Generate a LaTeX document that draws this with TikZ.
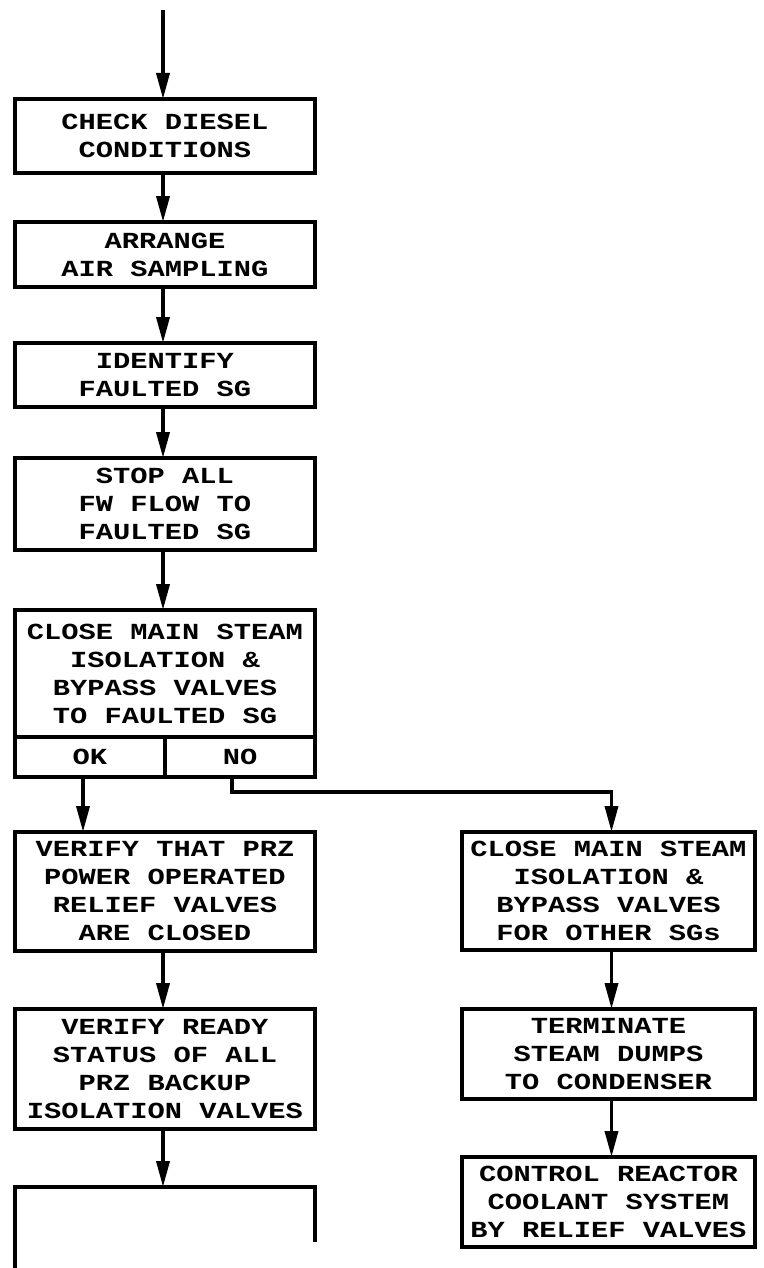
\documentclass[tikz,border=0pt]{standalone}
\usepackage{fontspec}
\setmonofont{Liberation Mono}[FakeStretch=1.25]
\usetikzlibrary{arrows.meta,positioning}

\begin{document}
\begin{tikzpicture}[x=0.5pt,y=0.5pt,font=\ttfamily\bfseries\fontsize{11.5}{14}\selectfont]
  \tikzset{stepbox/.style={draw,line width=2pt,outer sep=0pt,minimum width=150pt,minimum height=#1,inner xsep=1pt,inner ysep=0pt,align=center},
    sidebox/.style={stepbox=#1,minimum width=146.5pt},
    rowbox/.style={draw,line width=2pt,outer sep=0pt,minimum width=75pt,minimum height=20pt,inner sep=1pt},
    flow/.style={-{Triangle[length=13pt,width=6.5pt]},line width=1.8pt}}
  \useasboundingbox (0,0) rectangle (764,-1268);
  % main column
  \coordinate (in) at (163,-10);
  \node[stepbox=37pt,anchor=north] (diesel) at (165,-99) {CHECK DIESEL\\CONDITIONS};
  \node[stepbox=32.5pt,below=24.5pt of diesel] (air) {ARRANGE\\AIR SAMPLING};
  \node[stepbox=32pt,below=28pt of air] (ident) {IDENTIFY\\FAULTED SG};
  \node[stepbox=46pt,below=25.5pt of ident] (fwstop) {STOP ALL\\FW FLOW TO\\FAULTED SG};
  \node[stepbox=63.5pt,below=30pt of fwstop] (msiv) {CLOSE MAIN STEAM\\ISOLATION \&\\BYPASS VALVES\\TO FAULTED SG};
  \node[rowbox,anchor=north west] (ok) at (msiv.south west) {OK};
  \node[rowbox,anchor=north east] (no) at (msiv.south east) {NO};
  \node[stepbox=59.5pt,anchor=north] (porv) at ([yshift=-27.5pt]msiv.south |- ok.south) {VERIFY THAT PRZ\\POWER OPERATED\\RELIEF VALVES\\ARE CLOSED};
  \node[stepbox=60pt,below=29pt of porv] (backup) {VERIFY READY\\STATUS OF ALL\\PRZ BACKUP\\ISOLATION VALVES};
  \coordinate[below=29pt of backup] (next);
  % NO branch
  \node[sidebox=59pt,anchor=north] (other) at (608.5,-832) {CLOSE MAIN STEAM\\ISOLATION \&\\BYPASS VALVES\\FOR OTHER SGs};
  \node[sidebox=45pt,below=29.5pt of other] (dumps) {TERMINATE\\STEAM DUMPS\\TO CONDENSER};
  \node[sidebox=45pt,below=29pt of dumps] (rcs) {CONTROL REACTOR\\COOLANT SYSTEM\\BY RELIEF VALVES};
  % open box at the foot
  \draw[line width=2pt] ([xshift=-75pt,yshift=-45pt]next) -- ([xshift=-75pt]next) -- ([xshift=75pt]next) -- ([xshift=75pt,yshift=-27.5pt]next);
  \draw[flow] (in) -- (in |- diesel.north);
  \draw[flow] ([xshift=-1pt]diesel.south) -- ([xshift=-1pt]air.north);
  \draw[flow] ([xshift=-1pt]air.south) -- ([xshift=-1pt]ident.north);
  \draw[flow] ([xshift=-1pt]ident.south) -- ([xshift=-1pt]fwstop.north);
  \draw[flow] ([xshift=-1pt]fwstop.south) -- ([xshift=-1pt]msiv.north);
  \draw[flow] ([xshift=-3.5pt]ok.south) -- ([xshift=-3.5pt]ok.south |- porv.north);
  \draw[flow] ([xshift=-1pt]porv.south) -- ([xshift=-1pt]backup.north);
  \draw[flow] ([xshift=-1pt]backup.south) -- ([xshift=-1pt]next);
  \draw[flow] ([xshift=-4pt]no.south) -- ++(0,-7.5pt) -| ([xshift=1.5pt]other.north);
  \draw[flow] ([xshift=1.5pt]other.south) -- ([xshift=1.5pt]dumps.north);
  \draw[flow] ([xshift=1.5pt]dumps.south) -- ([xshift=1.5pt]rcs.north);
\end{tikzpicture}
\end{document}
